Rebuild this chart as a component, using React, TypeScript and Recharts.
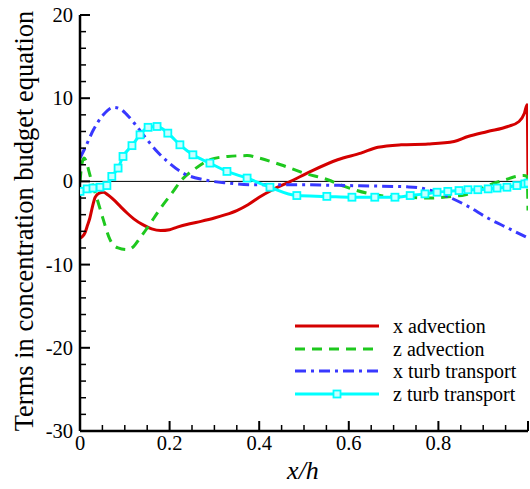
import { LineChart, Line, XAxis, YAxis, ReferenceLine, Legend } from "recharts";

// x advection
const xAdvX = [0, 0.006, 0.011, 0.016, 0.022, 0.028, 0.034, 0.043, 0.052, 0.062, 0.075, 0.09, 0.105, 0.12, 0.14, 0.16, 0.18, 0.2, 0.217, 0.245, 0.27, 0.3, 0.325, 0.35, 0.375, 0.4, 0.43, 0.47, 0.515, 0.575, 0.627, 0.665, 0.717, 0.777, 0.835, 0.866, 0.91, 0.955, 0.98, 0.992, 0.998, 1.0];
const xAdvY = [-6.8, -6.6, -6.2, -5.4, -4.4, -3.0, -1.9, -1.4, -1.3, -1.6, -2.2, -3.0, -3.8, -4.5, -5.2, -5.7, -5.9, -5.8, -5.5, -5.1, -4.8, -4.4, -4.0, -3.5, -2.8, -1.9, -1.0, 0, 1.2, 2.6, 3.4, 4.1, 4.4, 4.5, 4.8, 5.4, 6.0, 6.6, 7.2, 8.2, 9.2, 0];

// z advection
const zAdvX = [0, 0.004, 0.009, 0.014, 0.02, 0.027, 0.034, 0.042, 0.052, 0.067, 0.085, 0.105, 0.12, 0.134, 0.15, 0.165, 0.18, 0.208, 0.224, 0.254, 0.29, 0.33, 0.374, 0.4, 0.448, 0.5, 0.553, 0.59, 0.64, 0.688, 0.732, 0.777, 0.83, 0.86, 0.89, 0.92, 0.95, 0.97, 0.99, 0.998, 1.0];
const zAdvY = [0, 2.0, 2.8, 2.4, 1.2, -0.2, -1.4, -2.8, -4.6, -7.0, -8.0, -8.2, -7.8, -6.8, -5.6, -4.4, -3.2, -1.2, 0, 1.4, 2.6, 3.0, 3.1, 2.8, 2.0, 1.0, 0.2, -0.6, -1.4, -1.8, -1.9, -2.0, -1.8, -1.6, -1.0, -0.3, 0.2, 0.55, 0.7, 0.6, -3.5];

// x turb transport
const xTurbX = [0, 0.011, 0.03, 0.052, 0.075, 0.09, 0.105, 0.127, 0.15, 0.172, 0.195, 0.23, 0.276, 0.33, 0.39, 0.45, 0.5, 0.55, 0.6, 0.65, 0.7, 0.73, 0.76, 0.79, 0.82, 0.866, 0.91, 0.955, 1.0];
const xTurbY = [2.8, 4.0, 6.2, 8.0, 8.9, 8.7, 8.0, 6.6, 5.0, 3.6, 2.4, 1.0, 0.2, -0.2, -0.4, -0.4, -0.4, -0.45, -0.5, -0.55, -0.6, -0.65, -0.8, -1.2, -1.8, -3.0, -4.4, -5.6, -6.8];

// z turb transport (one point per marker)
const zTurbX = [0, 0.016, 0.029, 0.045, 0.06, 0.071, 0.085, 0.096, 0.116, 0.134, 0.152, 0.172, 0.196, 0.223, 0.252, 0.29, 0.328, 0.373, 0.424, 0.484, 0.551, 0.607, 0.658, 0.703, 0.737, 0.77, 0.797, 0.821, 0.846, 0.866, 0.888, 0.911, 0.931, 0.953, 0.975, 0.993, 1.0];
const zTurbY = [-1.2, -0.9, -0.8, -0.7, -0.5, 0.6, 1.6, 3.0, 4.3, 5.6, 6.5, 6.6, 5.8, 4.4, 3.2, 2.2, 1.2, 0.4, -0.7, -1.7, -1.8, -1.9, -1.9, -1.9, -1.7, -1.5, -1.3, -1.2, -1.1, -1.0, -1.0, -0.9, -0.8, -0.7, -0.5, -0.3, -0.2];

const xTicks = [0, 0.05, 0.1, 0.15, 0.2, 0.25, 0.3, 0.35, 0.4, 0.45, 0.5, 0.55, 0.6, 0.65, 0.7, 0.75, 0.8, 0.85, 0.9, 0.95, 1.0];
const yTicks = [-30, -28, -26, -24, -22, -20, -18, -16, -14, -12, -10, -8, -6, -4, -2, 0, 2, 4, 6, 8, 10, 12, 14, 16, 18, 20];
const xLabels = ["0", "0.2", "0.4", "0.6", "0.8"];

const seriesNames = ["x advection", "z advection", "x turb transport", "z turb transport"];

const RED = "#d40000";
const GREEN = "#1ec81e";
const BLUE = "#3838ff";
const CYAN = "#00ffff";
const FONT = "Liberation Serif";

const pts = (xs: number[], ys: number[]) => xs.map((x, i) => ({ x, y: ys[i] }));

const isMajor = (v: number, step: number) => Math.abs(v / step - Math.round(v / step)) < 1e-6;
const fmtX = (v: number) => xLabels.find((l) => Math.abs(parseFloat(l) - v) < 1e-6);

const BottomTick = ({ x, y, payload }: any) => {
  const major = isMajor(payload.value, 0.2);
  const lbl = major ? fmtX(payload.value) : undefined;
  return (
    <g>
      <line x1={x} x2={x} y1={y} y2={y - (major ? 10 : 6)} stroke="#000" strokeWidth={major ? 2 : 1.5} />
      {lbl && (
        <text x={x} y={y + 19} textAnchor="middle" fontSize={20.5} fontFamily={FONT} fill="#000">{lbl}</text>
      )}
    </g>
  );
};

const TopTick = ({ x, y, payload }: any) => {
  const major = isMajor(payload.value, 0.2);
  return <line x1={x} x2={x} y1={y} y2={y + (major ? 10 : 6)} stroke="#000" strokeWidth={major ? 2 : 1.5} />;
};

const LeftTick = ({ x, y, payload }: any) => {
  const major = isMajor(payload.value, 10);
  return (
    <g>
      <line x1={x} x2={x + (major ? 10 : 6)} y1={y} y2={y} stroke="#000" strokeWidth={major ? 2 : 1.5} />
      {major && (
        <text x={x - 7} y={y + 7} textAnchor="end" fontSize={20.5} fontFamily={FONT} fill="#000">{payload.value}</text>
      )}
    </g>
  );
};

const RightTick = ({ x, y, payload }: any) => {
  const major = isMajor(payload.value, 10);
  return <line x1={x} x2={x - (major ? 10 : 6)} y1={y} y2={y} stroke="#000" strokeWidth={major ? 2 : 1.5} />;
};

const YTitle = ({ viewBox }: any) => {
  const cx = 24;
  const cy = viewBox.y + viewBox.height / 2 - 2;
  return (
    <text x={cx} y={cy} transform={`rotate(-90 ${cx} ${cy})`} textAnchor="middle" dominantBaseline="central"
      fontSize={26.5} fontFamily={FONT} fill="#000">
      Terms in concentration budget equation
    </text>
  );
};

const XTitle = ({ viewBox }: any) => (
  <text x={viewBox.x + viewBox.width / 2 - 1} y={viewBox.y + 48} textAnchor="middle"
    fontSize={26} fontStyle="italic" fontFamily={FONT} fill="#000">
    x/h
  </text>
);

const SquareDot = ({ cx, cy, index }: any) => (
  <rect key={`sq-${index}`} x={cx - 3.5} y={cy - 3.5} width={7} height={7} fill="#c8ffff" stroke={CYAN} strokeWidth={1.8} />
);

const styles = [
  { color: RED, dash: undefined as string | undefined, marker: false },
  { color: GREEN, dash: "10 7", marker: false },
  { color: BLUE, dash: "11 5 3 5", marker: false },
  { color: CYAN, dash: undefined as string | undefined, marker: true },
];

const renderLegend = () => (
  <div style={{ fontFamily: FONT, fontSize: 20, color: "#000" }}>
    {seriesNames.map((name, i) => (
      <div key={name} style={{ display: "flex", alignItems: "center", height: 22.5 }}>
        <svg width={84} height={12} style={{ marginRight: 14, flexShrink: 0 }}>
          <line x1={0} x2={84} y1={6} y2={6} stroke={styles[i].color} strokeWidth={3} strokeDasharray={styles[i].dash} />
          {styles[i].marker && <rect x={38.5} y={2.5} width={7} height={7} fill="#c8ffff" stroke={CYAN} strokeWidth={1.8} />}
        </svg>
        <span style={{ lineHeight: "22px", whiteSpace: "nowrap" }}>{name}</span>
      </div>
    ))}
  </div>
);

export default function App() {
  return (
    <div style={{ position: "absolute", left: 0, top: 0, background: "#fff", fontFamily: FONT }}>
      <LineChart width={530} height={489} margin={{ top: 15, right: 2, bottom: 0, left: 30 }}>
        <XAxis
          dataKey="x"
          type="number"
          domain={[0, 1]}
          ticks={xTicks}
          interval={0}
          allowDataOverflow
          height={58}
          tickSize={0}
          tickMargin={0}
          tickLine={false}
          tick={<BottomTick />}
          axisLine={{ stroke: "#000", strokeWidth: 2.5 }}
          label={<XTitle />}
        />
        <XAxis
          xAxisId="top"
          orientation="top"
          type="number"
          domain={[0, 1]}
          ticks={xTicks}
          interval={0}
          height={0}
          tickSize={0}
          tickMargin={0}
          tickLine={false}
          tick={<TopTick />}
          axisLine={{ stroke: "#000", strokeWidth: 2.5 }}
        />
        <YAxis
          type="number"
          domain={[-30, 20]}
          ticks={yTicks}
          interval={0}
          allowDataOverflow
          width={50}
          tickSize={0}
          tickMargin={0}
          tickLine={false}
          tick={<LeftTick />}
          axisLine={{ stroke: "#000", strokeWidth: 2.5 }}
          label={<YTitle />}
        />
        <YAxis
          yAxisId="right"
          orientation="right"
          type="number"
          domain={[-30, 20]}
          ticks={yTicks}
          interval={0}
          width={0}
          tickSize={0}
          tickMargin={0}
          tickLine={false}
          tick={<RightTick />}
          axisLine={{ stroke: "#000", strokeWidth: 2.5 }}
        />
        <ReferenceLine y={0} stroke="#000" strokeWidth={1} />
        <Legend
          layout="vertical"
          align="center"
          verticalAlign="middle"
          content={renderLegend}
          wrapperStyle={{ left: 295, top: 315, width: 235 }}
        />
        <Line data={pts(xAdvX, xAdvY)} dataKey="y" name={seriesNames[0]} type="monotoneX" stroke={RED} strokeWidth={3}
          dot={false} isAnimationActive={false} />
        <Line data={pts(zAdvX, zAdvY)} dataKey="y" name={seriesNames[1]} type="monotoneX" stroke={GREEN} strokeWidth={3}
          strokeDasharray="10 7" dot={false} isAnimationActive={false} />
        <Line data={pts(xTurbX, xTurbY)} dataKey="y" name={seriesNames[2]} type="monotoneX" stroke={BLUE} strokeWidth={3}
          strokeDasharray="11 5 3 5" dot={false} isAnimationActive={false} />
        <Line data={pts(zTurbX, zTurbY)} dataKey="y" name={seriesNames[3]} type="monotoneX" stroke={CYAN} strokeWidth={3}
          dot={<SquareDot />} isAnimationActive={false} />
      </LineChart>
    </div>
  );
}
